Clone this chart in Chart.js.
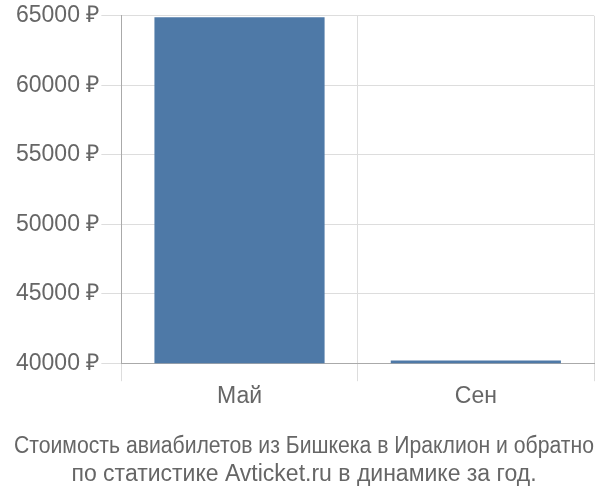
<!DOCTYPE html>
<html>
<head>
<meta charset="utf-8">
<script src="https://cdn.jsdelivr.net/npm/chart.js@4/dist/chart.umd.min.js"></script>
<style>
  html, body { margin: 0; padding: 0; background: #fff; }
  #wrap { width: 600px; height: 500px; }
</style>
</head>
<body>
<div id="wrap"><canvas id="chart"></canvas></div>
<script>
// data
var months = ['Май', 'Сен'];
var prices = [64900, 40200];
var yTicks = [40000, 45000, 50000, 55000, 60000, 65000];
var titleLines = ['Стоимость авиабилетов из Бишкека в Ираклион и обратно', 'по статистике Avticket.ru в динамике за год.'];

Chart.defaults.font.family = '"Liberation Sans", Arial, sans-serif';
Chart.defaults.color = '#666';

var chart = new Chart(document.getElementById('chart'), {
    type: 'bar',
    data: {
        labels: months,
        datasets: [{
            data: prices,
            backgroundColor: '#4e79a7',
            borderWidth: 0
        }]
    },
    options: {
        responsive: true,
        maintainAspectRatio: false,
        animation: false,
        layout: { padding: { left: 14, right: 6, top: 2, bottom: 12 } },
        plugins: {
            legend: { display: false },
            tooltip: { enabled: false },
            title: {
                display: true,
                position: 'bottom',
                text: titleLines,
                font: { size: 23, weight: 'normal', lineHeight: 1.2 },
                color: '#666',
                padding: { top: 20, bottom: 0 }
            }
        },
        scales: {
            x: {
                grid: { color: '#ddd', offset: true, tickLength: 18 },
                border: { color: '#aaa' },
                ticks: { font: { size: 23 }, color: '#666', padding: 2 }
            },
            y: {
                min: yTicks[0],
                max: yTicks[yTicks.length - 1],
                afterBuildTicks: function (axis) {
                    axis.ticks = yTicks.map(function (v) { return { value: v }; });
                },
                grid: { color: '#ddd', tickLength: 20 },
                border: { color: '#aaa' },
                ticks: {
                    font: { size: 23 },
                    color: '#666',
                    padding: 2,
                    callback: function (v) { return v + ' ₽'; }
                }
            }
        }
    }
});
</script>
</body>
</html>
